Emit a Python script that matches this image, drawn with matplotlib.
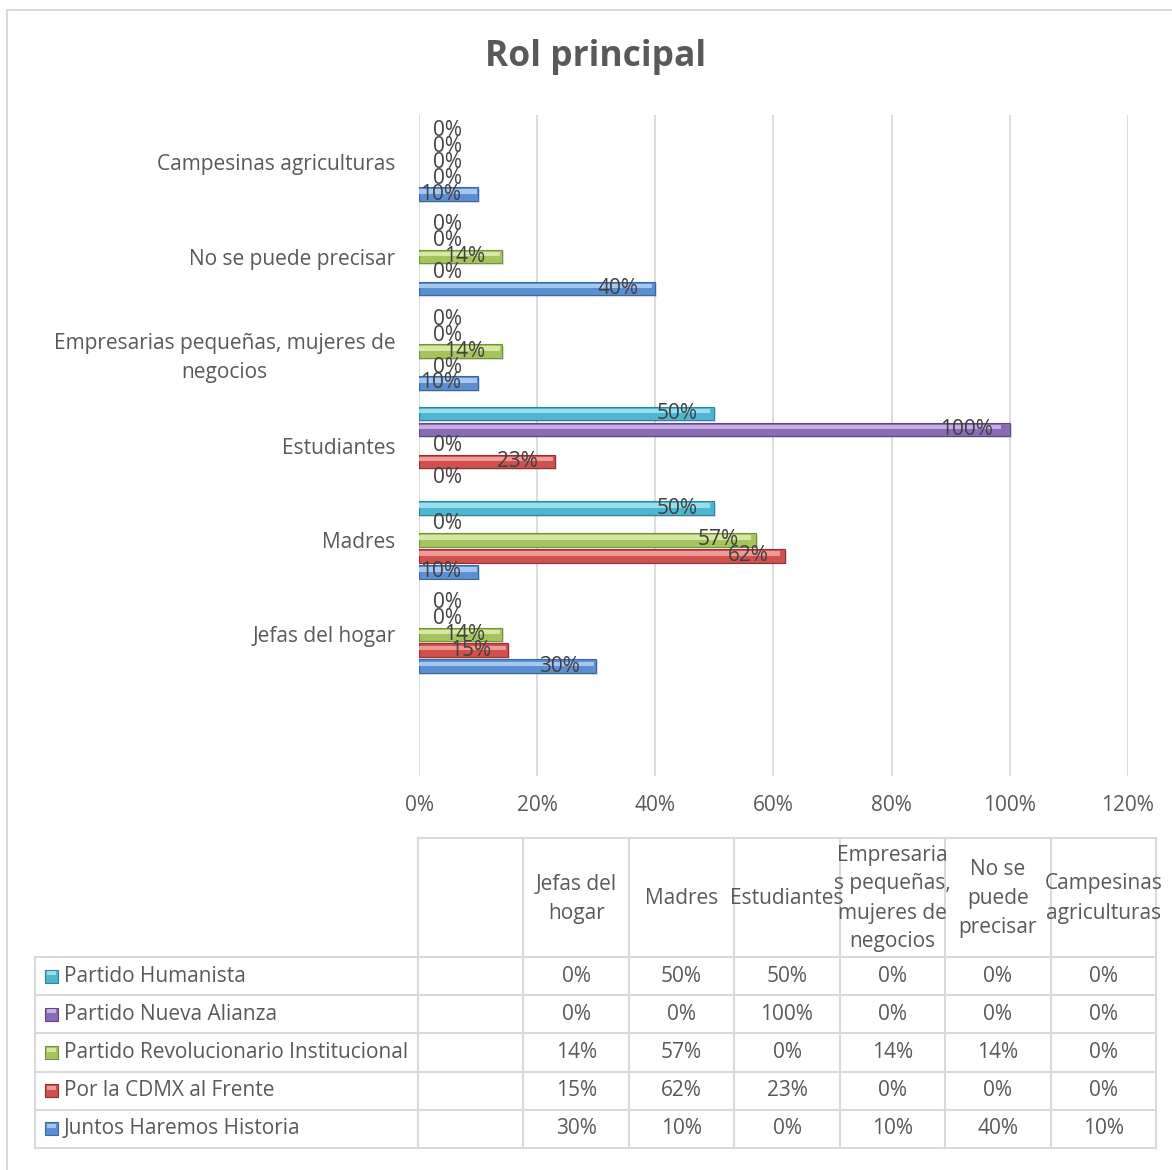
import matplotlib
matplotlib.use("Agg")
import matplotlib.pyplot as plt
from matplotlib.patches import Rectangle
import numpy as np

plt.rcParams["font.family"] = ["Open Sans", "DejaVu Sans"]

# ── data ────────────────────────────────────────────────────────────────────
categories = ["", "Jefas del hogar", "Madres", "Estudiantes",
              "Empresarias pequeñas, mujeres de\nnegocios",
              "No se puede precisar", "Campesinas agriculturas"]
table_headers = ["", "Jefas del\nhogar", "Madres", "Estudiantes",
                 "Empresaria\ns pequeñas,\nmujeres de\nnegocios",
                 "No se\npuede\nprecisar", "Campesinas\nagriculturas"]
series = ["Juntos Haremos Historia", "Por la CDMX al Frente",
          "Partido Revolucionario Institucional", "Partido Nueva Alianza",
          "Partido Humanista"]
juntos = [None, 30, 10, 0, 10, 40, 10]
cdmx = [None, 15, 62, 23, 0, 0, 0]
pri = [None, 14, 57, 0, 14, 14, 0]
nueva_alianza = [None, 0, 0, 100, 0, 0, 0]
humanista = [None, 0, 50, 50, 0, 0, 0]
values = [juntos, cdmx, pri, nueva_alianza, humanista]
xticks = [0, 20, 40, 60, 80, 100, 120]

# (mid, light, dark) per series
COLS = [("#5B8FD0", "#A4C8F2", "#3A679C"),
        ("#D0504D", "#EE9A98", "#8E3331"),
        ("#A6C45E", "#D6E8A4", "#74903A"),
        ("#8A6BB5", "#C6AEE4", "#5D4880"),
        ("#4DB6D1", "#9ADDEE", "#2F8499")]
TXT = "#595959"
LBL = "#404040"
GRID = "#D9D9D9"
FS = 15

W, H = 1172, 1170
fig = plt.figure(figsize=(W / 100, H / 100), dpi=100)
fig.patch.set_facecolor("white")

# overlay in pixel coordinates for frame, title and data table
ov = fig.add_axes([0, 0, 1, 1])
ov.set_xlim(0, W); ov.set_ylim(H, 0); ov.axis("off")
ov.plot([7, 7, W + 5], [H + 5, 10, 10], color=GRID, lw=1.5)
ov.text(596, 57, "Rol principal", ha="center", va="center", fontsize=25.5,
        fontweight="bold", color=TXT)

# ── bar chart ───────────────────────────────────────────────────────────────
x0, x1, ytop, ybot = 419, 1128, 115, 776
ax = fig.add_axes([x0 / W, 1 - ybot / H, (x1 - x0) / W, (ybot - ytop) / H])
ax.patch.set_alpha(0)
ax.set_xlim(0, 120)
ax.set_ylim(-0.5, len(categories) - 0.5)
ax.set_xticks(xticks)
ax.set_xticklabels([f"{t}%" for t in xticks], fontsize=FS, color=TXT)
ax.tick_params(axis="x", length=0, pad=14)
ax.set_yticks(range(len(categories)))
ax.set_yticklabels(categories, fontsize=FS, color=TXT, multialignment="center",
                   linespacing=1.5)
ax.tick_params(axis="y", length=0, pad=17)
ax.xaxis.grid(True, color=GRID, lw=1.3)
ax.set_axisbelow(True)
for s in ax.spines.values():
    s.set_visible(False)

pitch, bh = 0.169, 0.145
for i, (vals, (mid, light, dark)) in enumerate(zip(values, COLS)):
    pts = [(c + (i - 2) * pitch, v) for c, v in enumerate(vals) if v is not None]
    ys = np.array([p[0] for p in pts]); vs = np.array([p[1] for p in pts])
    nz = vs > 0
    # shadow, body, highlight
    ax.barh(ys[nz] - 0.018, vs[nz] + 0.35, height=bh, color="#000000",
            alpha=0.12, lw=0, zorder=2)
    ax.barh(ys[nz], vs[nz], height=bh, color=mid, edgecolor=dark, lw=0.8, zorder=3)
    ax.barh(ys[nz] + bh * 0.18, vs[nz] * 0.985, height=bh * 0.32,
            color=light, lw=0, zorder=4)
    for y, v in zip(ys, vs):
        if v == 0:
            ax.annotate("0%", (0, y), xytext=(10, 0), textcoords="offset points",
                        ha="left", va="center", fontsize=FS, color=LBL, zorder=5)
        elif v < 12:
            ax.annotate(f"{v}%", (0, y), xytext=(1, 0), textcoords="offset points",
                        ha="left", va="center", fontsize=FS, color=LBL, zorder=5)
        else:
            ax.annotate(f"{v}%", (v, y), xytext=(-12, 0), textcoords="offset points",
                        ha="right", va="center", fontsize=FS, color=LBL, zorder=5)

# ── data table ──────────────────────────────────────────────────────────────
tl, tc0 = 35, 418
cw = (1156 - tc0) / len(table_headers)
htop, hbot = 838, 957
rh = (1148 - hbot) / len(series)
col_x = [tc0 + k * cw for k in range(len(table_headers) + 1)]
lc = "#D9D9D9"
ov.plot([tc0, col_x[-1]], [htop, htop], color=lc, lw=1.5)
for cx in col_x:
    ov.plot([cx, cx], [htop, 1148], color=lc, lw=1.5)
ov.plot([tl, tl], [hbot, 1148], color=lc, lw=1.5)
for r in range(len(series) + 1):
    yy = hbot + r * rh
    ov.plot([tl, col_x[-1]], [yy, yy], color=lc, lw=1.5)
for k, hdr in enumerate(table_headers):
    ov.text((col_x[k] + col_x[k + 1]) / 2, (htop + hbot) / 2 + 1, hdr, ha="center",
            va="center", fontsize=FS, color=TXT, linespacing=1.5)
# rows: top row is last series
for r, si in enumerate(range(len(series) - 1, -1, -1)):
    yc = hbot + (r + 0.5) * rh
    mid, light, dark = COLS[si]
    ov.add_patch(Rectangle((45, yc - 6.5), 13, 13, facecolor=mid, edgecolor=dark, lw=0.8))
    ov.add_patch(Rectangle((47, yc - 5), 9, 4, facecolor=light, lw=0))
    ov.text(64, yc, series[si], ha="left", va="center", fontsize=FS, color=TXT)
    for k in range(1, len(table_headers)):
        ov.text((col_x[k] + col_x[k + 1]) / 2, yc, f"{values[si][k]}%", ha="center",
                va="center", fontsize=FS, color=TXT)

fig.savefig("out.png", dpi=100, facecolor="white")
